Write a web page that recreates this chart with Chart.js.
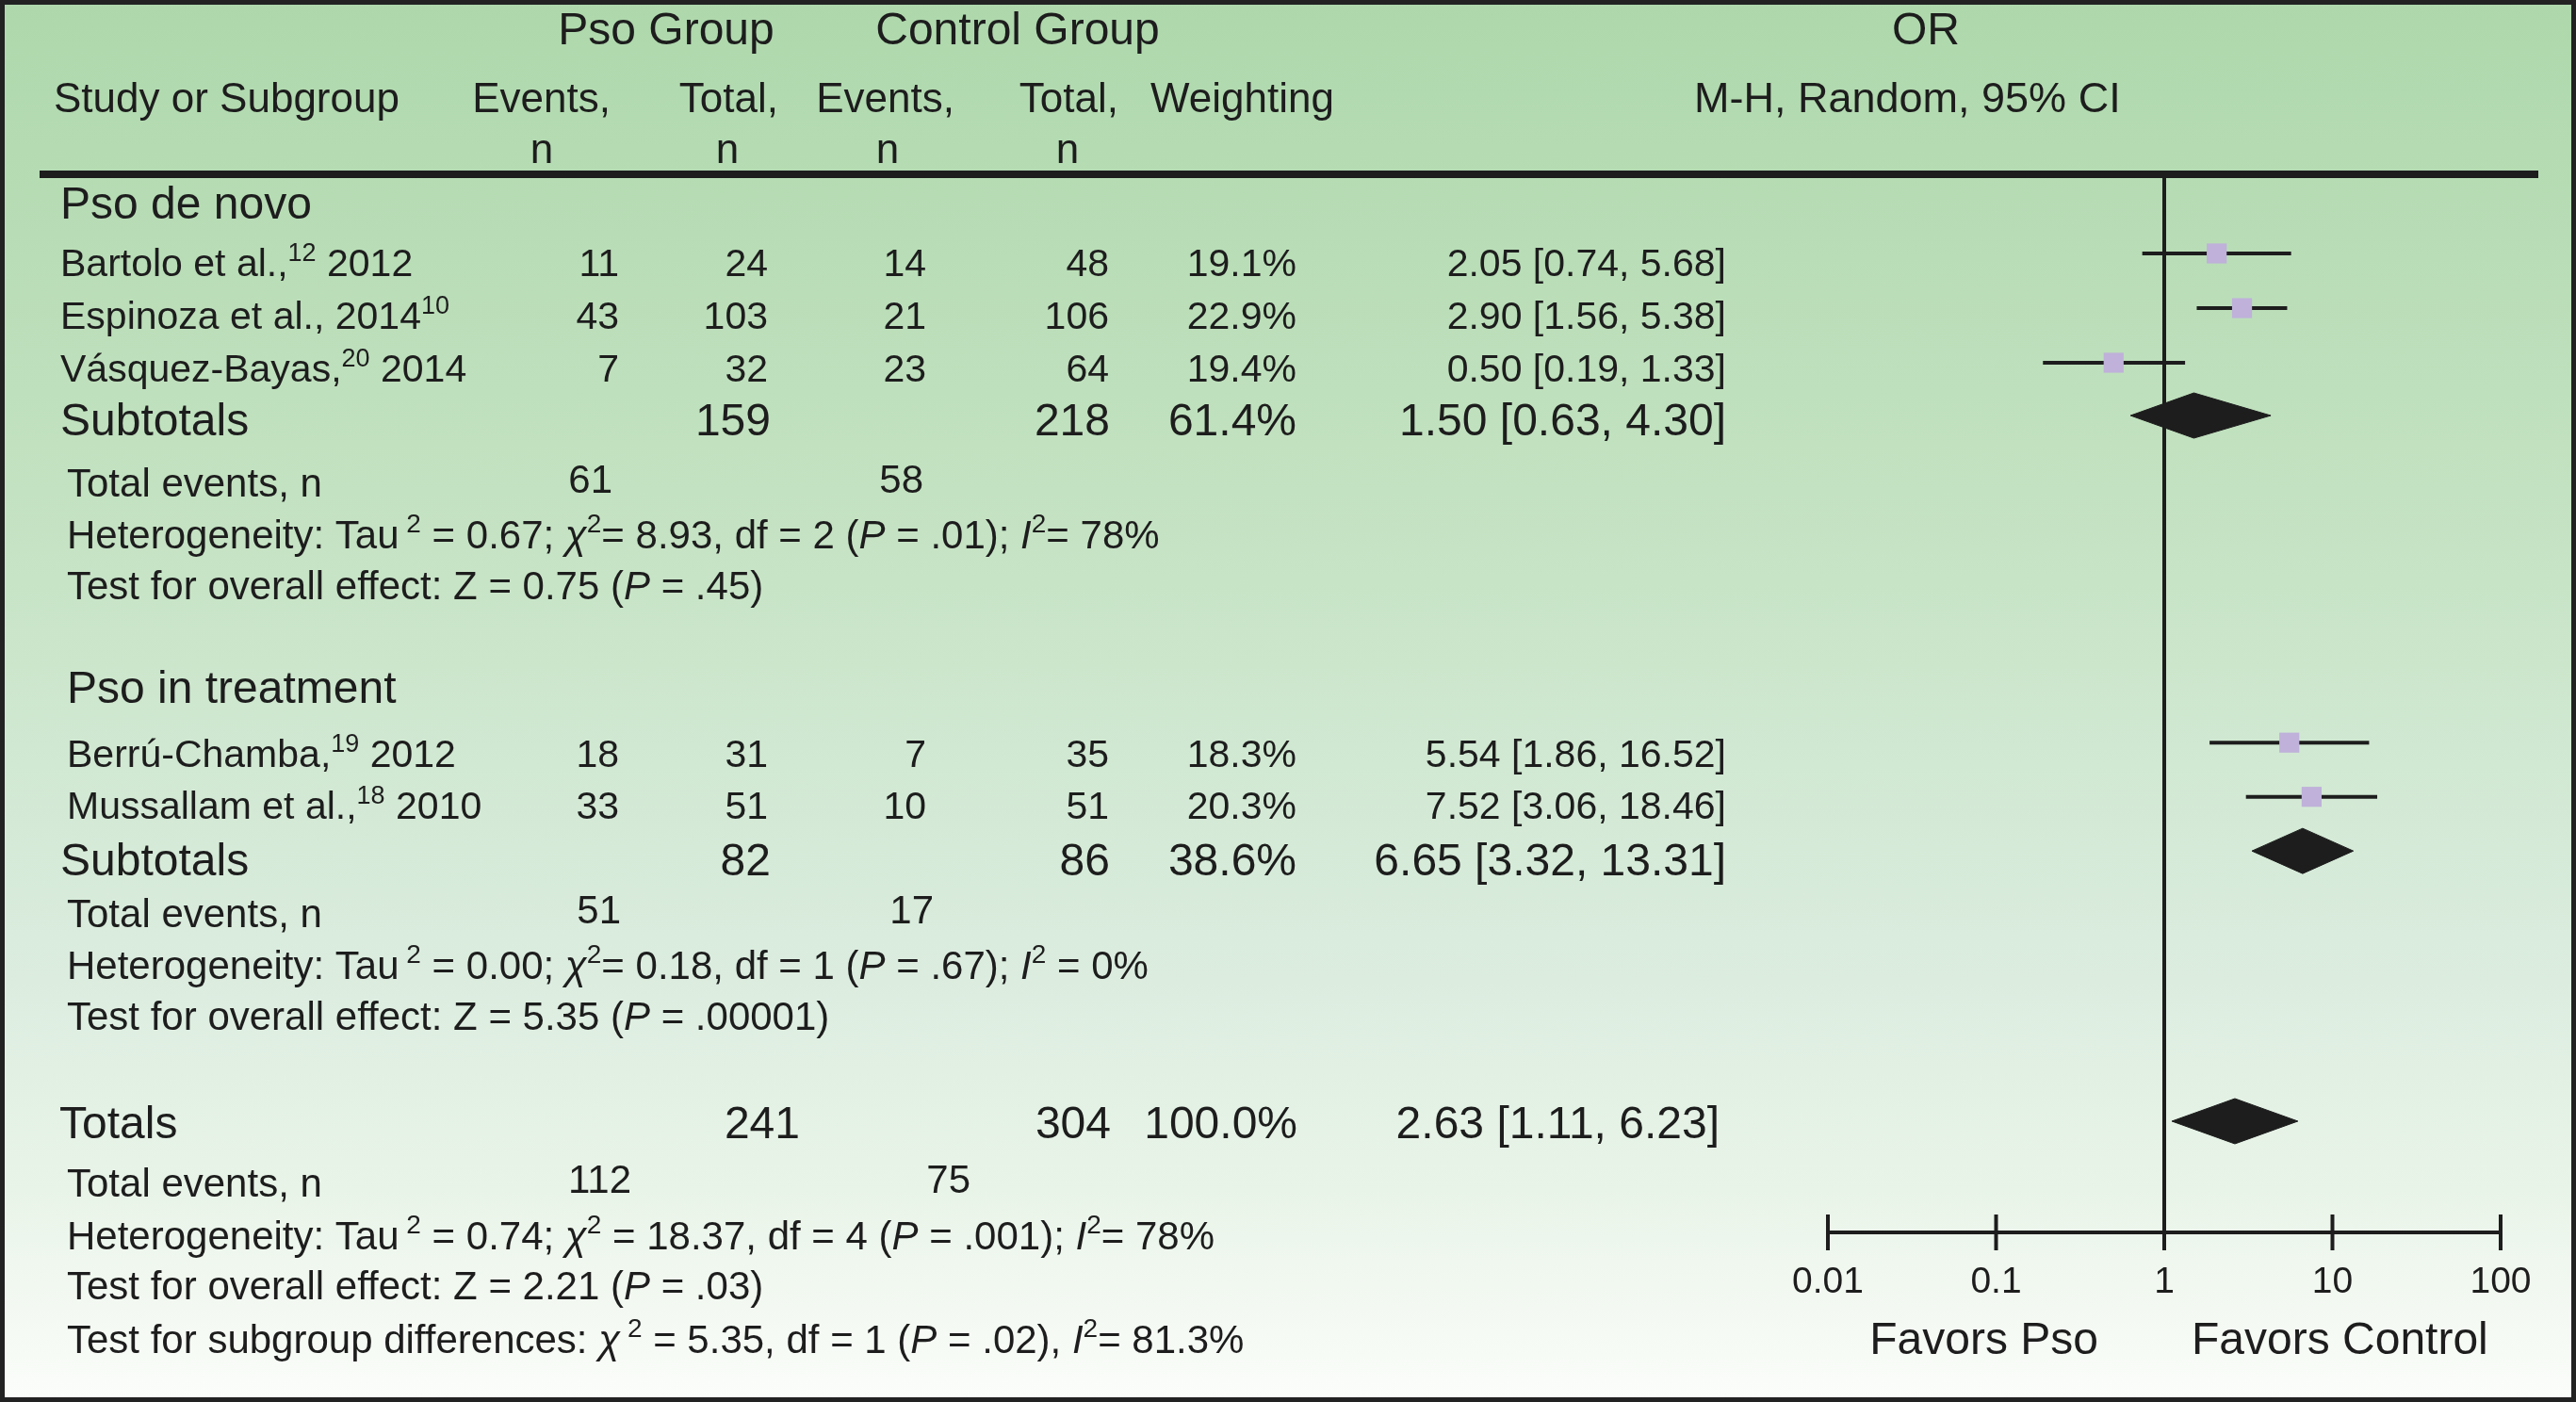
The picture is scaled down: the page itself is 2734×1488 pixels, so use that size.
<!DOCTYPE html>
<html>
<head>
<meta charset="utf-8">
<script src="https://cdn.jsdelivr.net/npm/chart.js@4.4.1/dist/chart.umd.min.js"></script>
<style>
html,body{margin:0;padding:0;background:#fff;overflow:hidden}
canvas{display:block}
</style>
</head>
<body>
<canvas id="c" width="2734" height="1488" style="width:2734px;height:1488px"></canvas>
<script>
// ================= DATA =================
const studyAuthors = ['Bartolo et al.,', 'Espinoza et al., 2014', 'Vásquez-Bayas,', 'Berrú-Chamba,', 'Mussallam et al.,'];
const studyRefs    = ['12', '10', '20', '19', '18'];
const studyYears   = [' 2012', '', ' 2014', ' 2012', ' 2010'];
const studyGroup   = [0, 0, 0, 1, 1];
const psoEvents    = [11, 43, 7, 18, 33];
const psoTotal     = [24, 103, 32, 31, 51];
const ctrlEvents   = [14, 21, 23, 7, 10];
const ctrlTotal    = [48, 106, 64, 35, 51];
const studyWeight  = [19.1, 22.9, 19.4, 18.3, 20.3];
const studyOR      = [2.05, 2.90, 0.50, 5.54, 7.52];
const studyLow     = [0.74, 1.56, 0.19, 1.86, 3.06];
const studyHigh    = [5.68, 5.38, 1.33, 16.52, 18.46];

const groupNames      = ['Pso de novo', 'Pso in treatment'];
const groupPsoTotal   = [159, 82];
const groupCtrlTotal  = [218, 86];
const groupWeight     = [61.4, 38.6];
const groupOR         = [1.50, 6.65];
const groupLow        = [0.63, 3.32];
const groupHigh       = [4.30, 13.31];
const groupPsoEvents  = [61, 51];
const groupCtrlEvents = [58, 17];
const groupTau2 = ['0.67', '0.00'];
const groupChi2 = ['8.93', '0.18'];
const groupDf   = [2, 1];
const groupHetP = ['.01', '.67'];
const groupI2   = ['78%', '0%'];
const groupZ    = ['0.75', '5.35'];
const groupZP   = ['.45', '.00001'];

const totalPso = 241, totalCtrl = 304, totalWeight = 100.0;
const totalOR = 2.63, totalLow = 1.11, totalHigh = 6.23;
const totalPsoEvents = 112, totalCtrlEvents = 75;
const totalTau2 = '0.74', totalChi2 = '18.37', totalDf = 4, totalHetP = '.001', totalI2 = '78%';
const totalZ = '2.21', totalZP = '.03';
const subgroupChi2 = '5.35', subgroupDf = 1, subgroupP = '.02', subgroupI2 = '81.3%';

const xTickValues = [0.01, 0.1, 1, 10, 100];
const xTickLabels = ['0.01', '0.1', '1', '10', '100'];

// ================= LAYOUT (row positions in y-scale units, x in px) =================
const AXIS_ROW = 20.125;
const studyMarkRow = [1.505, 2.545, 3.584, 10.81, 11.84];
const studyTextRow = [1.935, 2.939, 3.943, 11.272, 12.258];
const groupHeadRow = [0.842, 10.054];
const groupDiamondRow = [4.588, 12.87];
const groupSubRow = [4.964, 13.333];
const groupTERow = [6.129, 14.319];
const groupHetRow = [7.115, 15.305];
const groupTestRow = [8.082, 16.272];
const totalDiamondRow = 18.01, totalTextRow = 18.333, totalTERow = 19.444;
const totalHetRow = 20.448, totalTestRow = 21.398, subgroupTestRow = 22.419, favorsRow = 22.437;
const hdrRows = [-2.473, -1.183, -0.215];
const DIAMOND_H = 0.43;

const FONT = '"Liberation Sans", Arial, Helvetica, sans-serif';
const INK = '#1d1d1d';
const MARK = '#bfb1da';
const NOTE = 42;

// ================= helpers =================
function fontFor(s, size) {
  const sz = s.sup ? Math.round(size * 0.66) : size;
  return (s.it ? 'italic ' : '') + sz + 'px ' + FONT;
}
function norm(segs) { return (Array.isArray(segs) ? segs : [segs]).map(s => typeof s === 'string' ? {t: s} : s); }
function drawRich(ctx, segs, x, y, size, align) {
  segs = norm(segs);
  let w = 0;
  for (const s of segs) { ctx.font = fontFor(s, size); w += ctx.measureText(s.t).width; }
  let cx = align === 'right' ? x - w : (align === 'center' ? x - w / 2 : x);
  ctx.textAlign = 'left';
  ctx.textBaseline = 'alphabetic';
  for (const s of segs) {
    ctx.font = fontFor(s, size);
    ctx.fillText(s.t, cx, s.sup ? y - size * 0.4 : y);
    cx += ctx.measureText(s.t).width;
  }
}
const SUP2 = {t: '2', sup: true};
const SUP2S = {t: ' 2', sup: true};
const CHI = {t: 'χ', it: true};
function hetSegs(tau2, chi2, df, p, i2, chiEq, iEq) {
  return ['Heterogeneity: Tau', SUP2S, ' = ' + tau2 + '; ', CHI, SUP2, chiEq + chi2 + ', df = ' + df + ' (',
    {t: 'P', it: true}, ' = ' + p + '); ', {t: 'I', it: true}, SUP2, iEq + i2];
}
function testSegs(z, p) {
  return ['Test for overall effect: Z = ' + z + ' (', {t: 'P', it: true}, ' = ' + p + ')'];
}
function orText(o, l, h) { return o.toFixed(2) + ' [' + l.toFixed(2) + ', ' + h.toFixed(2) + ']'; }
function diamond(o, l, h, row) {
  return [{x: l, y: row}, {x: o, y: row - DIAMOND_H}, {x: h, y: row}, {x: o, y: row + DIAMOND_H}, {x: l, y: row}];
}

// ================= table plugin =================
const tablePlugin = {
  id: 'forestTable',
  beforeDraw(chart) {
    const {ctx, width, height} = chart;
    const g = ctx.createLinearGradient(0, 0, 0, height);
    g.addColorStop(0, '#aed8ac');
    g.addColorStop(0.35, '#c3e2c1');
    g.addColorStop(0.7, '#dcede0');
    g.addColorStop(0.85, '#e9f4e8');
    g.addColorStop(1, '#fbfdfa');
    ctx.save();
    ctx.fillStyle = g;
    ctx.fillRect(0, 0, width, height);
    ctx.restore();
  },
  afterDraw(chart) {
    const {ctx, width, height} = chart;
    const ys = chart.scales.y, xs = chart.scales.x;
    const Y = v => ys.getPixelForValue(v);
    ctx.save();
    ctx.fillStyle = INK;

    // header
    drawRich(ctx, 'Pso Group', 707, Y(hdrRows[0]), 48, 'center');
    drawRich(ctx, 'Control Group', 1080, Y(hdrRows[0]), 48, 'center');
    drawRich(ctx, 'OR', 2044, Y(hdrRows[0]), 48, 'center');
    drawRich(ctx, 'Study or Subgroup', 57, Y(hdrRows[1]), 44, 'left');
    drawRich(ctx, 'Events,', 648, Y(hdrRows[1]), 44, 'right');
    drawRich(ctx, 'Total,', 826, Y(hdrRows[1]), 44, 'right');
    drawRich(ctx, 'Events,', 1013, Y(hdrRows[1]), 44, 'right');
    drawRich(ctx, 'Total,', 1187, Y(hdrRows[1]), 44, 'right');
    drawRich(ctx, 'Weighting', 1221, Y(hdrRows[1]), 44, 'left');
    drawRich(ctx, 'M-H, Random, 95% CI', 1798, Y(hdrRows[1]), 45, 'left');
    [575, 772, 942, 1133].forEach(cx => drawRich(ctx, 'n', cx, Y(hdrRows[2]), 44, 'center'));

    // thick header rule
    ctx.fillStyle = INK;
    ctx.fillRect(42, Y(0) - 4, 2652, 8);

    const leftStudy = [64, 71], leftNote = [71, 71];
    const tePos = [[650, 980], [659, 991]];
    const chiEq = ['= ', '= '], iEq = ['= ', ' = '];

    // groups
    for (let gi = 0; gi < groupNames.length; gi++) {
      drawRich(ctx, groupNames[gi], leftStudy[gi], Y(groupHeadRow[gi]), 48, 'left');
      studyGroup.forEach((g, i) => {
        if (g !== gi) return;
        const y = Y(studyTextRow[i]);
        const segs = [studyAuthors[i], {t: studyRefs[i], sup: true}];
        if (studyYears[i]) segs.push(studyYears[i]);
        drawRich(ctx, segs, leftStudy[gi], y, 41, 'left');
        drawRich(ctx, String(psoEvents[i]), 657, y, 41, 'right');
        drawRich(ctx, String(psoTotal[i]), 815, y, 41, 'right');
        drawRich(ctx, String(ctrlEvents[i]), 983, y, 41, 'right');
        drawRich(ctx, String(ctrlTotal[i]), 1177, y, 41, 'right');
        drawRich(ctx, studyWeight[i].toFixed(1) + '%', 1376, y, 41, 'right');
        drawRich(ctx, orText(studyOR[i], studyLow[i], studyHigh[i]), 1832, y, 41, 'right');
      });
      const ys2 = Y(groupSubRow[gi]);
      drawRich(ctx, 'Subtotals', 64, ys2, 48, 'left');
      drawRich(ctx, String(groupPsoTotal[gi]), 818, ys2, 48, 'right');
      drawRich(ctx, String(groupCtrlTotal[gi]), 1178, ys2, 48, 'right');
      drawRich(ctx, groupWeight[gi].toFixed(1) + '%', 1376, ys2, 48, 'right');
      drawRich(ctx, orText(groupOR[gi], groupLow[gi], groupHigh[gi]), 1832, ys2, 48, 'right');
      const yte = Y(groupTERow[gi]);
      drawRich(ctx, 'Total events, n', leftNote[gi], yte, NOTE, 'left');
      drawRich(ctx, String(groupPsoEvents[gi]), tePos[gi][0], yte - 4, NOTE, 'right');
      drawRich(ctx, String(groupCtrlEvents[gi]), tePos[gi][1], yte - 4, NOTE, 'right');
      drawRich(ctx, hetSegs(groupTau2[gi], groupChi2[gi], groupDf[gi], groupHetP[gi], groupI2[gi], chiEq[gi], iEq[gi]),
        leftNote[gi], Y(groupHetRow[gi]), NOTE, 'left');
      drawRich(ctx, testSegs(groupZ[gi], groupZP[gi]), leftNote[gi], Y(groupTestRow[gi]), NOTE, 'left');
    }

    // totals
    const yt = Y(totalTextRow);
    drawRich(ctx, 'Totals', 63, yt, 48, 'left');
    drawRich(ctx, String(totalPso), 849, yt, 48, 'right');
    drawRich(ctx, String(totalCtrl), 1179, yt, 48, 'right');
    drawRich(ctx, totalWeight.toFixed(1) + '%', 1377, yt, 48, 'right');
    drawRich(ctx, orText(totalOR, totalLow, totalHigh), 1825, yt, 48, 'right');
    const ytte = Y(totalTERow);
    drawRich(ctx, 'Total events, n', 71, ytte, NOTE, 'left');
    drawRich(ctx, String(totalPsoEvents), 670, ytte - 4, NOTE, 'right');
    drawRich(ctx, String(totalCtrlEvents), 1030, ytte - 4, NOTE, 'right');
    drawRich(ctx, hetSegs(totalTau2, totalChi2, totalDf, totalHetP, totalI2, ' = ', '= '), 71, Y(totalHetRow), NOTE, 'left');
    drawRich(ctx, testSegs(totalZ, totalZP), 71, Y(totalTestRow), NOTE, 'left');
    drawRich(ctx, ['Test for subgroup differences: ', CHI, SUP2S, ' = ' + subgroupChi2 + ', df = ' + subgroupDf + ' (',
      {t: 'P', it: true}, ' = ' + subgroupP + '), ', {t: 'I', it: true}, SUP2, '= ' + subgroupI2], 71, Y(subgroupTestRow), NOTE, 'left');

    // favors labels
    const x1 = xs.getPixelForValue(1);
    drawRich(ctx, 'Favors Pso', x1 - 70, Y(favorsRow), 48, 'right');
    drawRich(ctx, 'Favors Control', x1 + 29, Y(favorsRow), 48, 'left');

    // frame
    ctx.strokeStyle = '#222';
    ctx.lineWidth = 5;
    ctx.strokeRect(2.5, 2.5, width - 5, height - 5);
    ctx.restore();
  }
};

// ================= datasets =================
const ciDatasets = studyOR.map((_, i) => ({
  type: 'line',
  data: [{x: studyLow[i], y: studyMarkRow[i]}, {x: studyHigh[i], y: studyMarkRow[i]}],
  borderColor: INK, borderWidth: 4, pointRadius: 0, fill: false, clip: false, order: 2
}));
const diamondDatasets = groupOR.map((o, gi) => ({
  type: 'line',
  data: diamond(o, groupLow[gi], groupHigh[gi], groupDiamondRow[gi]),
  borderColor: INK, backgroundColor: INK, borderWidth: 1, pointRadius: 0, fill: 'shape', clip: false, order: 1
})).concat([{
  type: 'line',
  data: diamond(totalOR, totalLow, totalHigh, totalDiamondRow),
  borderColor: INK, backgroundColor: INK, borderWidth: 1, pointRadius: 0, fill: 'shape', clip: false, order: 1
}]);

function build() {
  new Chart(document.getElementById('c'), {
    type: 'scatter',
    data: {
      datasets: [
        {
          type: 'scatter',
          data: studyOR.map((o, i) => ({x: o, y: studyMarkRow[i]})),
          pointStyle: 'rect', pointRadius: 15, backgroundColor: MARK, borderWidth: 0, clip: false, order: 0
        },
        ...diamondDatasets,
        ...ciDatasets,
        {
          type: 'line',
          data: [{x: 1, y: 0}, {x: 1, y: AXIS_ROW}],
          borderColor: INK, borderWidth: 4, pointRadius: 0, fill: false, clip: false, order: 3
        },
        {
          type: 'line',
          data: xTickValues.map(v => ({x: v, y: AXIS_ROW})),
          borderColor: INK, borderWidth: 4, fill: false, clip: false, order: 4,
          pointStyle: 'line', pointRotation: 90, pointRadius: 19,
          pointBorderWidth: 4, pointBorderColor: INK, pointBackgroundColor: INK
        }
      ]
    },
    options: {
      responsive: false,
      devicePixelRatio: 1,
      animation: false,
      events: [],
      layout: {padding: {left: 1940, right: 80, top: 185, bottom: 0}},
      plugins: {legend: {display: false}, tooltip: {enabled: false}, title: {display: false}},
      scales: {
        x: {
          type: 'logarithmic', position: 'bottom', min: 0.01, max: 100,
          grid: {display: false, drawTicks: false},
          border: {display: false},
          afterBuildTicks: scale => { scale.ticks = xTickValues.map(v => ({value: v})); },
          afterFit: scale => { scale.height = 180; },
          ticks: {
            autoSkip: false, maxRotation: 0, minRotation: 0, padding: 30, color: INK,
            font: {family: FONT, size: 39},
            callback: (v, i) => xTickLabels[i]
          }
        },
        y: {type: 'linear', min: 0, max: AXIS_ROW, reverse: true, display: false}
      }
    },
    plugins: [tablePlugin]
  });
}

const fontLoads = [41, 42, 44, 48].map(s => document.fonts.load(s + 'px "Liberation Sans"'))
  .concat([document.fonts.load('italic 42px "Liberation Sans"')]);
Promise.race([Promise.all(fontLoads), new Promise(r => setTimeout(r, 1500))]).then(build, build);
</script>
</body>
</html>
